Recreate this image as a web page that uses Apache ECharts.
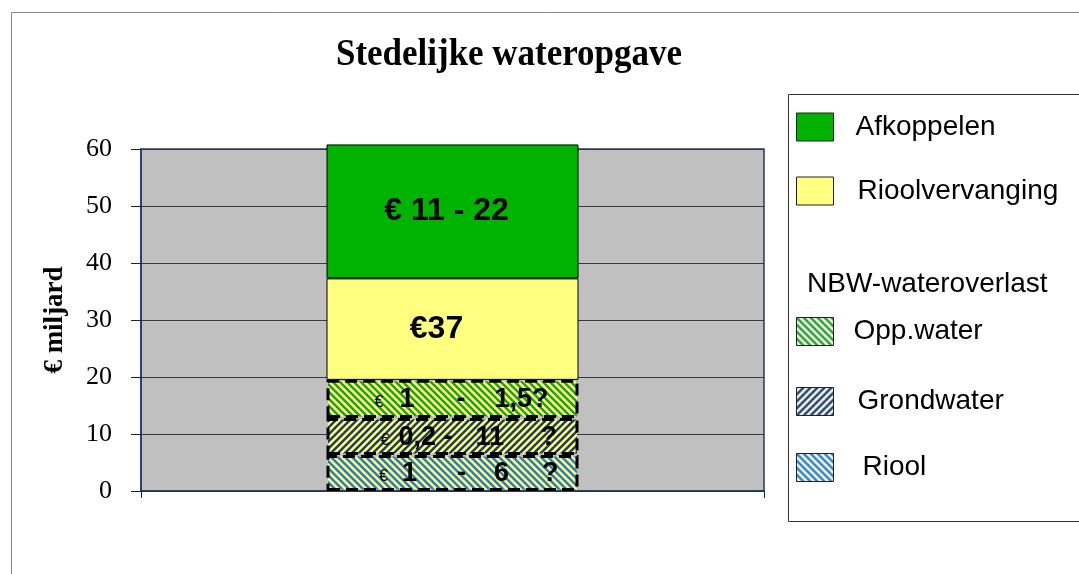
<!DOCTYPE html>
<html>
<head>
<meta charset="utf-8">
<script src="https://cdn.jsdelivr.net/npm/echarts@6/dist/echarts.min.js"></script>
<style>
html, body { margin: 0; padding: 0; background: #fff; }
#main { width: 1079px; height: 574px; }
</style>
</head>
<body>
<div id="main"></div>
<script>
// data
const categories = ['Stedelijke wateropgave']
const seriesNames = ['Riool', 'Grondwater', 'Opp.water', 'Rioolvervanging', 'Afkoppelen']
const riool = [6.3]
const grondwater = [6.5]
const oppWater = [6.7]
const rioolvervanging = [17.8]
const afkoppelen = [23.5]
const yMin = 0
const yMax = 60
const yStep = 10
const legendHeader = 'NBW-wateroverlast'
const afkoppelenLabel = '€ 11 - 22'
const rioolvervangingLabel = '€37'
const oppWaterLabel = ['€', '1', '-', '1,5?']
const grondwaterLabel = ['€', '0,2', '-', '11', '?']
const rioolLabel = ['€', '1', '-', '6', '?']

// hatched fill, dir '\\' or '/'
function hatch(bg, fg, dir) {
    const s = 7
    const c = document.createElement('canvas')
    c.width = s
    c.height = s
    const g = c.getContext('2d')
    g.fillStyle = bg
    g.fillRect(0, 0, s, s)
    g.strokeStyle = fg
    g.lineWidth = 2.5
    for (let k = -1; k <= 1; k++) {
        g.beginPath()
        if (dir === '\\') {
            g.moveTo(k * s - 1, -1)
            g.lineTo(k * s + s + 1, s + 1)
        } else {
            g.moveTo(k * s - 1, s + 1)
            g.lineTo(k * s + s + 1, -1)
        }
        g.stroke()
    }
    return { image: c, repeat: 'repeat' }
}

const yellow = '#ffff80'
const green = '#00b300'
const oppFg = '#1f9e1f'
const grondFg = '#1d3d5f'
const rioolFg = '#2b7bc4'

// pieces of the small hatched labels, each piece gets a fixed width
function pieceLabel(tokens, widths, dx) {
    const rich = {}
    let text = ''
    tokens.forEach((t, i) => {
        rich['t' + i] = i === 0
            ? { width: widths[i], align: 'left', fontSize: 16, lineHeight: 16, verticalAlign: 'bottom', padding: [0, 0, 4, 0], fontFamily: 'Liberation Sans', color: '#000' }
            : { width: widths[i], align: 'left', fontSize: 27, fontWeight: 'bold', lineHeight: 30, fontFamily: 'Liberation Sans', color: '#000' }
        text += '{t' + i + '|' + t + '}'
    })
    return { show: true, position: 'inside', formatter: text, rich: rich, offset: [dx, 1] }
}

const dashed = { borderColor: '#000', borderWidth: 3, borderType: [12, 6] }

function legendAt(name, top, textX, padTop, legendColor) {
    const item = { name: name }
    if (legendColor) item.itemStyle = { color: legendColor }
    return {
        data: [item],
        left: 796,
        top: top - padTop / 2,
        padding: 0,
        icon: 'rect',
        itemWidth: 37,
        itemHeight: 28,
        selectedMode: false,
        itemStyle: { borderColor: '#222', borderWidth: 1, borderType: 'solid' },
        textStyle: {
            fontFamily: 'Liberation Sans',
            fontSize: 28,
            lineHeight: 28,
            color: '#000',
            padding: [padTop, 0, 0, textX - 796 - 37 - 5]
        }
    }
}

const myChart = echarts.init(document.getElementById('main'))

const option = {
    animation: false,
    graphic: [
        {
            type: 'rect', z: 0, silent: true,
            shape: { x: 11.5, y: 12.5, width: 1200, height: 700 },
            style: { fill: 'none', stroke: '#888', lineWidth: 1 }
        },
        {
            type: 'rect', z: 0, silent: true,
            shape: { x: 788.5, y: 94.5, width: 400, height: 427 },
            style: { fill: '#fff', stroke: '#333', lineWidth: 1 }
        },
        {
            // chart title, slightly condensed like the original
            type: 'text', z: 1, silent: true,
            x: 509, y: 55, scaleX: 0.92,
            style: {
                text: categories[0], align: 'center', verticalAlign: 'middle',
                fontFamily: 'Liberation Serif', fontWeight: 'bold', fontSize: 38, fill: '#000'
            }
        },
        {
            type: 'text', z: 1, silent: true,
            left: 807, top: 270,
            style: { text: legendHeader, fontFamily: 'Liberation Sans', fontSize: 28, fill: '#000' }
        }
    ],
    legend: [
        legendAt(seriesNames[4], 113, 855, 10),
        legendAt(seriesNames[3], 177, 857, 8),
        legendAt(seriesNames[2], 317, 853, 0, hatch('#fff', oppFg, '\\')),
        legendAt(seriesNames[1], 387, 857, 0, hatch('#fff', grondFg, '/')),
        legendAt(seriesNames[0], 453, 862, 0, hatch('#fff', rioolFg, '\\'))
    ],
    grid: {
        left: 141,
        top: 149,
        width: 623,
        height: 342,
        outerBoundsMode: 'none',
        show: true,
        backgroundColor: '#c0c0c0',
        borderColor: '#1f3864',
        borderWidth: 1.5
    },
    xAxis: {
        type: 'category',
        data: categories,
        axisLabel: { show: false },
        axisLine: { show: true, lineStyle: { color: '#1f3864', width: 1.5 } },
        axisTick: { show: true, length: 7, lineStyle: { color: '#222' } },
        splitLine: { show: false }
    },
    yAxis: {
        type: 'value',
        min: yMin,
        max: yMax,
        interval: yStep,
        name: '€ miljard',
        nameLocation: 'middle',
        nameRotate: 90,
        nameGap: 72,
        nameTextStyle: { fontFamily: 'Liberation Serif', fontWeight: 'bold', fontSize: 27, color: '#000' },
        axisLine: { show: true, lineStyle: { color: '#1f3864', width: 1.5 } },
        axisTick: { show: true, length: 10, lineStyle: { color: '#222' } },
        axisLabel: { margin: 29, fontFamily: 'Liberation Serif', fontSize: 26, color: '#000' },
        splitLine: { show: true, lineStyle: { color: '#3a3a3a', width: 1 } }
    },
    series: [
        {
            name: seriesNames[0], type: 'bar', stack: 'total', barWidth: 252, clip: false,
            data: riool,
            itemStyle: Object.assign({ color: hatch(yellow, rioolFg, '\\') }, dashed),
            label: pieceLabel(rioolLabel, [23, 55, 37, 48, 16], 16)
        },
        {
            name: seriesNames[1], type: 'bar', stack: 'total', barWidth: 252, clip: false,
            data: grondwater,
            itemStyle: Object.assign({ color: hatch(yellow, grondFg, '/') }, dashed),
            label: pieceLabel(grondwaterLabel, [18, 45, 32, 65, 16], 16)
        },
        {
            name: seriesNames[2], type: 'bar', stack: 'total', barWidth: 252, clip: false,
            data: oppWater,
            itemStyle: Object.assign({ color: hatch(yellow, oppFg, '\\') }, dashed),
            label: pieceLabel(oppWaterLabel, [25, 57, 38, 60], 12)
        },
        {
            name: seriesNames[3], type: 'bar', stack: 'total', barWidth: 252, clip: false,
            data: rioolvervanging,
            itemStyle: { color: yellow, borderColor: '#000', borderWidth: 1 },
            label: {
                show: true, position: 'inside', formatter: rioolvervangingLabel, offset: [-16, 0],
                fontFamily: 'Liberation Sans', fontWeight: 'bold', fontSize: 32, color: '#000'
            }
        },
        {
            name: seriesNames[4], type: 'bar', stack: 'total', barWidth: 252, clip: false,
            data: afkoppelen,
            itemStyle: { color: green, borderColor: '#000', borderWidth: 1 },
            label: {
                show: true, position: 'inside', formatter: afkoppelenLabel, offset: [-6, 0],
                fontFamily: 'Liberation Sans', fontWeight: 'bold', fontSize: 32, color: '#000'
            }
        }
    ]
}

option && myChart.setOption(option, true)
</script>
</body>
</html>
